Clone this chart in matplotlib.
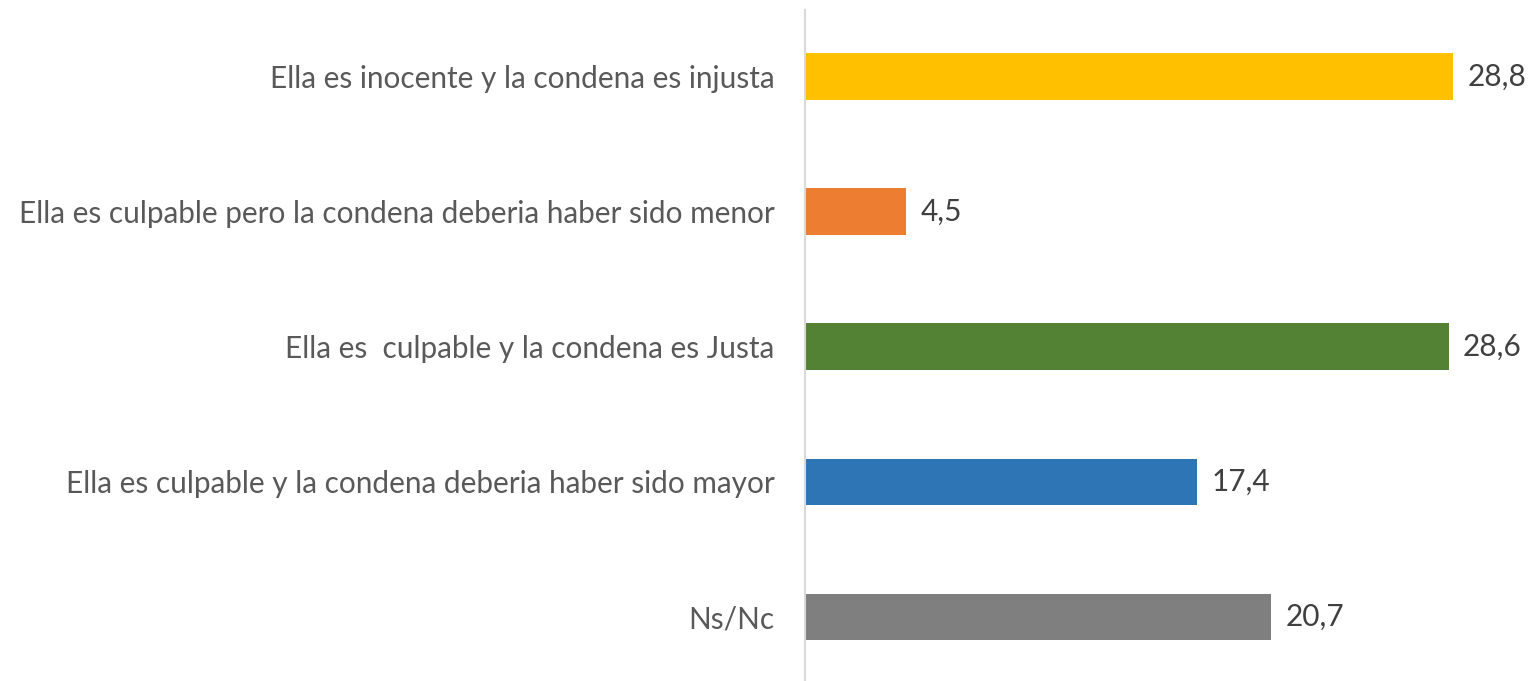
import matplotlib.pyplot as plt

# Datos del gráfico
categorias = [
    "Ella es inocente y la condena es injusta",
    "Ella es culpable pero la condena deberia haber sido menor",
    "Ella es  culpable y la condena es Justa",
    "Ella es culpable y la condena deberia haber sido mayor",
    "Ns/Nc",
]
valores = [28.8, 4.5, 28.6, 17.4, 20.7]
colores = ["#FFC000", "#ED7D31", "#548235", "#2E75B6", "#7F7F7F"]

plt.rcParams['font.family'] = ['Lato', 'DejaVu Sans']

fig = plt.figure(figsize=(15.31, 6.81), dpi=100)
ax = fig.add_axes([805 / 1531, 0, 726 / 1531, 671 / 681])

pos = list(range(len(categorias)))
ax.barh(pos, valores, height=0.348, color=colores)

for p, v in zip(pos, valores):
    ax.text(v + 0.65, p, f"{v:.1f}".replace(".", ","), va="center", ha="left",
            fontsize=21.4, color="#404040")

ax.set_xlim(0, 726 / 22.5)
ax.set_ylim(4.474, -0.496)
ax.set_yticks(pos)
ax.set_yticklabels(categorias, fontsize=21.4, color="#595959")
ax.tick_params(axis="y", length=0, pad=22)
ax.set_xticks([])

for lado in ["top", "right", "bottom"]:
    ax.spines[lado].set_visible(False)
ax.spines["left"].set_color("#D9D9D9")
ax.spines["left"].set_linewidth(1.5)

fig.savefig("out.png", dpi=100)
